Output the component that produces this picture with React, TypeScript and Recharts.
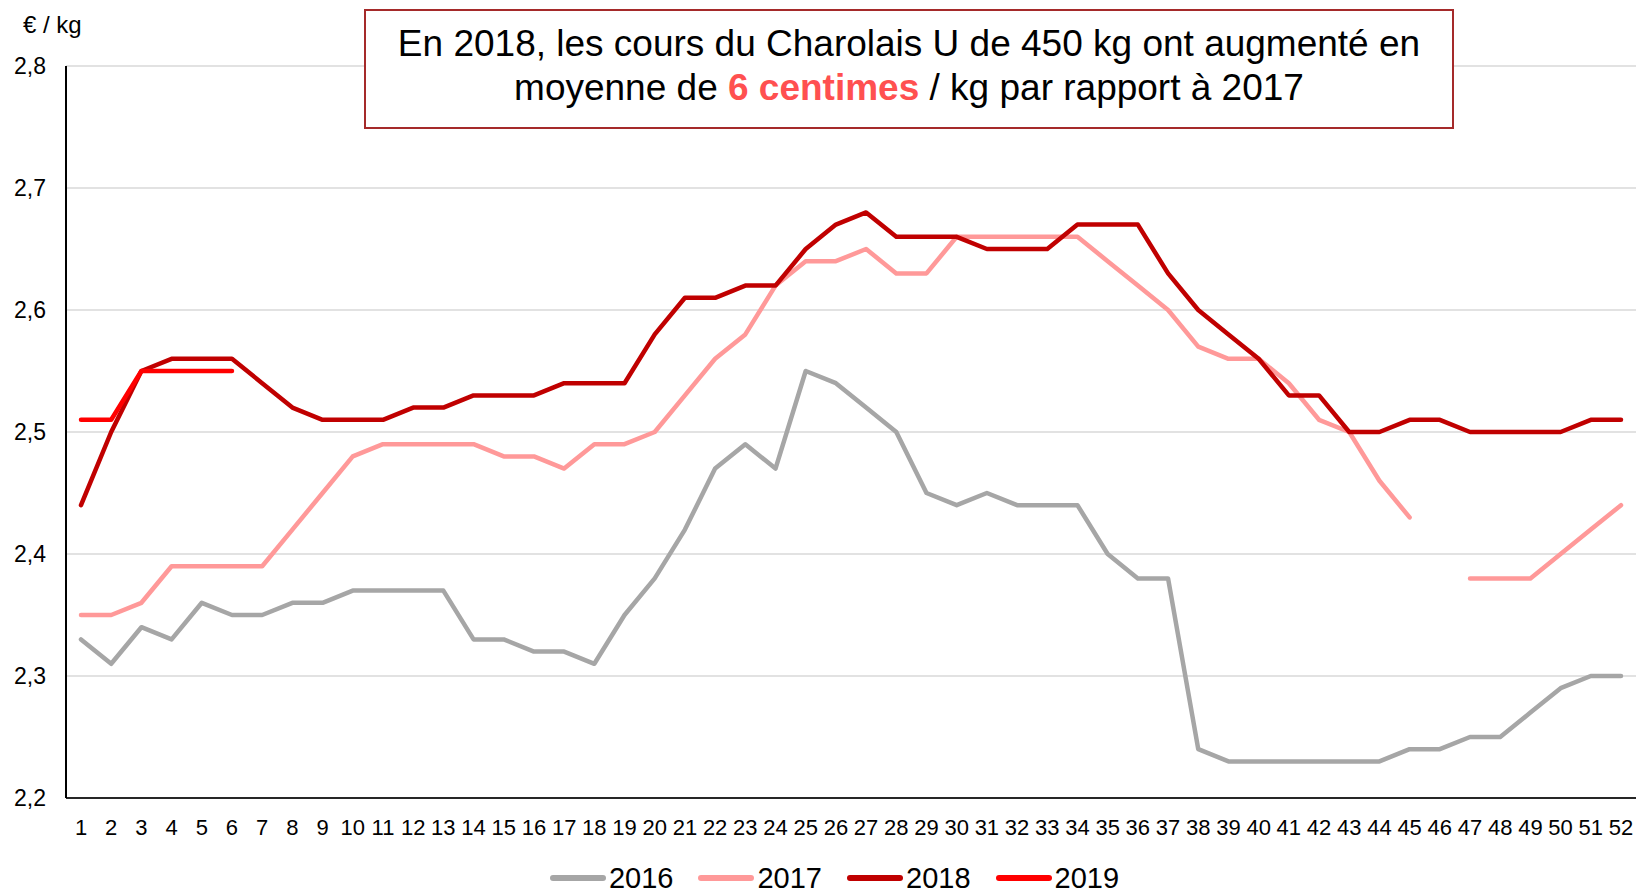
import { LineChart, Line, XAxis, YAxis, CartesianGrid, Legend } from 'recharts';

const weeks = [
  '1', '2', '3', '4', '5', '6', '7', '8', '9', '10', '11', '12', '13',
  '14', '15', '16', '17', '18', '19', '20', '21', '22', '23', '24', '25', '26',
  '27', '28', '29', '30', '31', '32', '33', '34', '35', '36', '37', '38', '39',
  '40', '41', '42', '43', '44', '45', '46', '47', '48', '49', '50', '51', '52',
];

const yTicks = [2.2, 2.3, 2.4, 2.5, 2.6, 2.7, 2.8];

const s2016 = [
  2.33, 2.31, 2.34, 2.33, 2.36, 2.35, 2.35, 2.36, 2.36, 2.37,
  2.37, 2.37, 2.37, 2.33, 2.33, 2.32, 2.32, 2.31, 2.35, 2.38,
  2.42, 2.47, 2.49, 2.47, 2.55, 2.54, 2.52, 2.50, 2.45, 2.44,
  2.45, 2.44, 2.44, 2.44, 2.40, 2.38, 2.38, 2.24, 2.23, 2.23,
  2.23, 2.23, 2.23, 2.23, 2.24, 2.24, 2.25, 2.25, 2.27, 2.29,
  2.30, 2.30,
];

const s2017 = [
  2.35, 2.35, 2.36, 2.39, 2.39, 2.39, 2.39, 2.42, 2.45, 2.48,
  2.49, 2.49, 2.49, 2.49, 2.48, 2.48, 2.47, 2.49, 2.49, 2.50,
  2.53, 2.56, 2.58, 2.62, 2.64, 2.64, 2.65, 2.63, 2.63, 2.66,
  2.66, 2.66, 2.66, 2.66, 2.64, 2.62, 2.60, 2.57, 2.56, 2.56,
  2.54, 2.51, 2.50, 2.46, 2.43, null, 2.38, 2.38, 2.38, 2.40,
  2.42, 2.44,
];

const s2018 = [
  2.44, 2.50, 2.55, 2.56, 2.56, 2.56, 2.54, 2.52, 2.51, 2.51,
  2.51, 2.52, 2.52, 2.53, 2.53, 2.53, 2.54, 2.54, 2.54, 2.58,
  2.61, 2.61, 2.62, 2.62, 2.65, 2.67, 2.68, 2.66, 2.66, 2.66,
  2.65, 2.65, 2.65, 2.67, 2.67, 2.67, 2.63, 2.60, 2.58, 2.56,
  2.53, 2.53, 2.50, 2.50, 2.51, 2.51, 2.50, 2.50, 2.50, 2.50,
  2.51, 2.51,
];

// 2019: only the first weeks are known
const s2019 = [2.51, 2.51, 2.55, 2.55, 2.55, 2.55];

const series = [
  { key: 'y2016', name: '2016', color: '#A6A6A6' },
  { key: 'y2017', name: '2017', color: '#FF9999' },
  { key: 'y2018', name: '2018', color: '#C00000' },
  { key: 'y2019', name: '2019', color: '#FF0000' },
];

const data = weeks.map((w, i) => ({
  week: w,
  y2016: s2016[i] ?? null,
  y2017: s2017[i] ?? null,
  y2018: s2018[i] ?? null,
  y2019: s2019[i] ?? null,
}));

const FONT = '"Liberation Sans", Arial, sans-serif';

function LegendContent() {
  return (
    <div style={{ display: 'flex', justifyContent: 'center', alignItems: 'center', gap: 25, height: 28, paddingLeft: 32, fontFamily: FONT }}>
      {series.map((s) => (
        <div key={s.key} style={{ display: 'flex', alignItems: 'center' }}>
          <div style={{ width: 56, height: 6, borderRadius: 3, background: s.color, marginRight: 3 }} />
          <span style={{ fontSize: 29, color: '#000' }}>{s.name}</span>
        </div>
      ))}
    </div>
  );
}

export default function App() {
  return (
    <div style={{ position: 'absolute', left: 0, top: 0, width: 1637, height: 892, background: '#fff', fontFamily: FONT }}>
      <LineChart width={1637} height={892} data={data} margin={{ top: 66, right: 1, bottom: 0, left: 0 }}>
        <CartesianGrid vertical={false} stroke="#D9D9D9" strokeWidth={1.5} />
        <XAxis
          dataKey="week"
          interval={0}
          height={66}
          padding={{ left: 15, right: 15 }}
          tickLine={false}
          tickSize={6}
          tickMargin={15}
          axisLine={{ stroke: '#262626', strokeWidth: 2 }}
          tick={{ fontSize: 22, fill: '#000', fontFamily: FONT }}
        />
        <YAxis
          width={66}
          domain={[2.2, 2.8]}
          ticks={yTicks}
          interval={0}
          tickLine={false}
          tickSize={6}
          tickMargin={14}
          axisLine={{ stroke: '#000', strokeWidth: 2 }}
          tick={{ fontSize: 23, fill: '#000', fontFamily: FONT }}
          tickFormatter={(v: number) => v.toFixed(1).replace('.', ',')}
        />
        <Legend verticalAlign="bottom" content={<LegendContent />} wrapperStyle={{ left: 0, width: 1637 }} />
        {series.map((s) => (
          <Line
            key={s.key}
            dataKey={s.key}
            name={s.name}
            type="linear"
            stroke={s.color}
            strokeWidth={4.5}
            strokeLinecap="round"
            strokeLinejoin="round"
            dot={false}
            activeDot={false}
            isAnimationActive={false}
          />
        ))}
      </LineChart>

      <div style={{ position: 'absolute', left: 23, top: 11, fontSize: 24, color: '#000' }}>€ / kg</div>

      <div
        style={{
          position: 'absolute',
          left: 364,
          top: 9,
          width: 1086,
          height: 105,
          border: '2px solid #A52A2A',
          background: '#fff',
          textAlign: 'center',
          fontSize: 37,
          lineHeight: '44px',
          paddingTop: 11,
          boxSizing: 'content-box',
          color: '#000',
        }}
      >
        En 2018, les cours du Charolais U de 450 kg ont augmenté en
        <br />
        moyenne de <span style={{ color: '#FF5050', fontWeight: 'bold' }}>6 centimes</span> / kg par rapport à 2017
      </div>
    </div>
  );
}
